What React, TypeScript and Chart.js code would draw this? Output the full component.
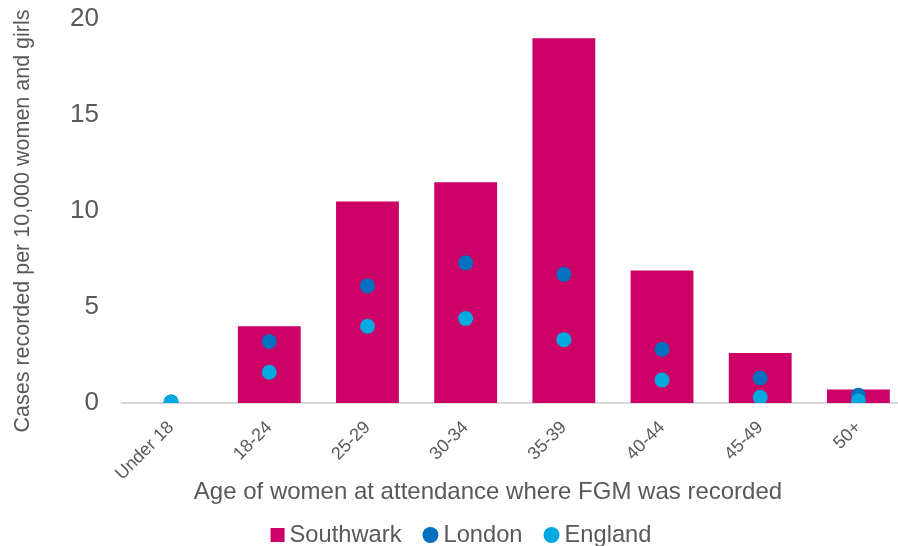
import React, { useEffect, useRef } from "react";
import { Chart, registerables } from "chart.js";

Chart.register(...registerables);

const categories = ["Under 18", "18-24", "25-29", "30-34", "35-39", "40-44", "45-49", "50+"];
const southwark = [0, 4.0, 10.5, 11.5, 19.0, 6.9, 2.6, 0.7];
const london = [0.05, 3.2, 6.1, 7.3, 6.7, 2.8, 1.3, 0.4];
const england = [0.05, 1.6, 4.0, 4.4, 3.3, 1.2, 0.3, 0.1];
const yTicks = [0, 5, 10, 15, 20];

const xTitle = "Age of women at attendance where FGM was recorded";
const yTitle = "Cases recorded per 10,000 women and girls";

const FONT = '"Liberation Sans", Arial, sans-serif';
const GREY = "#595959";
const C_SOUTH = "#CC0066";
const C_LONDON = "#0070C0";
const C_ENGLAND = "#00A9E0";

const textPlugin = {
  id: "customText",
  afterDraw(chart: any) {
    const ctx = chart.ctx as CanvasRenderingContext2D;
    ctx.save();
    // x title
    ctx.fillStyle = GREY;
    ctx.font = `24px ${FONT}`;
    ctx.textAlign = "center";
    ctx.textBaseline = "alphabetic";
    ctx.fillText(xTitle, 488, 499);
    // y title
    ctx.save();
    ctx.translate(29, 221);
    ctx.rotate(-Math.PI / 2);
    ctx.font = `21.5px ${FONT}`;
    ctx.fillText(yTitle, 0, 0);
    ctx.restore();
    // legend
    ctx.font = `23.7px ${FONT}`;
    const items = chart.data.datasets.map((ds: any) => ({
      label: ds.label,
      color: ds.backgroundColor,
      shape: ds.type === "line" ? "circle" : "rect",
    }));
    const gapMarker = 5;
    const gapItem = 21;
    const widths = items.map((it: any) => (it.shape === "rect" ? 14 : 16) + gapMarker + ctx.measureText(it.label).width);
    const total = widths.reduce((a: number, b: number) => a + b, 0) + gapItem * (items.length - 1);
    let x = 461 - total / 2;
    const cy = 535;
    ctx.textAlign = "left";
    items.forEach((it: any, i: number) => {
      ctx.fillStyle = it.color;
      let mw = 14;
      if (it.shape === "rect") {
        ctx.fillRect(x, cy - 7, 14, 14);
      } else {
        mw = 16;
        ctx.beginPath();
        ctx.arc(x + 8, cy, 8, 0, Math.PI * 2);
        ctx.fill();
      }
      ctx.fillStyle = GREY;
      ctx.fillText(it.label, x + mw + gapMarker, 542);
      x += widths[i] + gapItem;
    });
    ctx.restore();
  },
};

export default function App() {
  const ref = useRef<HTMLCanvasElement | null>(null);
  useEffect(() => {
    if (!ref.current) return;
    const chart = new Chart(ref.current, {
      type: "bar",
      data: {
        labels: categories,
        datasets: [
          {
            type: "bar",
            label: "Southwark",
            data: southwark,
            backgroundColor: C_SOUTH,
            barPercentage: 0.64,
            categoryPercentage: 1.0,
            order: 3,
          },
          {
            type: "line",
            label: "London",
            data: london,
            backgroundColor: C_LONDON,
            borderColor: C_LONDON,
            showLine: false,
            pointRadius: 7.5,
            pointBorderWidth: 0,
            pointHoverRadius: 7.5,
            order: 2,
          },
          {
            type: "line",
            label: "England",
            data: england,
            backgroundColor: C_ENGLAND,
            borderColor: C_ENGLAND,
            showLine: false,
            pointRadius: 7.5,
            pointBorderWidth: 0,
            pointHoverRadius: 7.5,
            order: 1,
          },
        ] as any,
      },
      options: {
        responsive: false,
        animation: false,
        layout: { padding: { top: 0, left: 0, right: 2, bottom: 0 } },
        plugins: {
          legend: { display: false },
          tooltip: { enabled: false },
        },
        scales: {
          x: {
            offset: true,
            grid: { display: false, drawTicks: false },
            border: { display: true, color: "#D9D9D9", width: 2 },
            ticks: {
              color: GREY,
              font: { family: FONT, size: 18 },
              minRotation: 45,
              maxRotation: 45,
              padding: 14,
              autoSkip: false,
            },
            afterFit(scale: any) {
              scale.height = 143;
              scale.paddingRight = 0;
            },
          },
          y: {
            min: 0,
            max: 20,
            grid: { display: false, drawTicks: false },
            border: { display: false },
            ticks: {
              color: GREY,
              font: { family: FONT, size: 26 },
              padding: 23,
              stepSize: 5,
              callback: (v: any) => (yTicks.includes(Number(v)) ? String(v) : ""),
            },
            afterFit(scale: any) {
              scale.width = 122;
              scale.paddingTop = 19;
              scale.paddingBottom = 0;
            },
          },
        },
      },
      plugins: [textPlugin],
    });
    return () => chart.destroy();
  }, []);
  return (
    <div style={{ position: "fixed", left: 0, top: 0, width: 898, height: 546, overflow: "hidden", background: "#fff" }}>
      <canvas ref={ref} width={915} height={546} style={{ display: "block" }} />
    </div>
  );
}
